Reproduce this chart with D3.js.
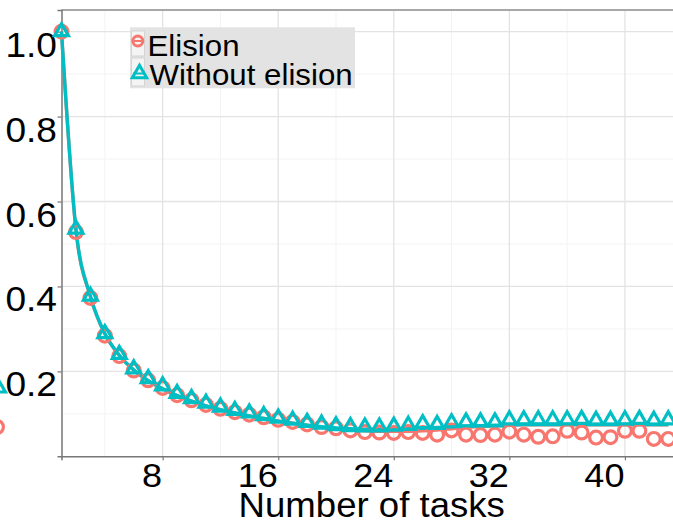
<!DOCTYPE html>
<html><head><meta charset="utf-8">
<script src="https://cdn.jsdelivr.net/npm/d3@7"></script>
<style>
body{margin:0;background:#fff}
svg{display:block}
text{font-family:"Liberation Sans",Arial,Helvetica,sans-serif;fill:#000}
</style>
</head><body>
<svg id="chart" width="673" height="520"></svg>
<script>
const tasks = [1,2,3,4,5,6,7,8,9,10,11,12,13,14,15,16,17,18,19,20,21,22,23,24,25,26,27,28,29,30,31,32,33,34,35,36,37,38,39,40,41,42,43];
const elision = [1.000,0.528,0.373,0.284,0.236,0.202,0.179,0.161,0.144,0.132,0.121,0.112,0.104,0.098,0.092,0.086,0.081,0.075,0.069,0.066,0.061,0.057,0.056,0.055,0.057,0.055,0.051,0.061,0.051,0.050,0.051,0.058,0.051,0.046,0.047,0.060,0.056,0.044,0.045,0.060,0.060,0.041,0.041];
const withoutElision = [1.000,0.535,0.377,0.289,0.240,0.206,0.183,0.166,0.148,0.136,0.125,0.116,0.108,0.102,0.096,0.090,0.085,0.080,0.076,0.072,0.070,0.069,0.069,0.071,0.073,0.077,0.075,0.079,0.081,0.081,0.081,0.086,0.086,0.086,0.086,0.086,0.087,0.085,0.085,0.086,0.087,0.085,0.086];
const elisionTrend = [1.000,0.533,0.376,0.288,0.238,0.203,0.178,0.159,0.143,0.130,0.119,0.110,0.102,0.095,0.089,0.083,0.078,0.073,0.068,0.065,0.062,0.060,0.059,0.059,0.059,0.060,0.062,0.065,0.068,0.070,0.072,0.073,0.074,0.074,0.074,0.074,0.074,0.074,0.074,0.074,0.074,0.074,0.074];
const withoutTrend = [1.000,0.535,0.377,0.289,0.238,0.203,0.178,0.159,0.143,0.130,0.119,0.110,0.102,0.095,0.089,0.083,0.078,0.073,0.070,0.067,0.065,0.064,0.064,0.064,0.065,0.066,0.068,0.070,0.071,0.072,0.073,0.074,0.075,0.075,0.075,0.075,0.075,0.075,0.075,0.075,0.075,0.075,0.075];
const seriesNames = ["Elision","Without elision"];
const seriesColors = ["#F8766D","#00BFC4"];
const yTicks = [0.2,0.4,0.6,0.8,1.0];
const yMinor = [0.1,0.3,0.5,0.7,0.9];
const xTicks = [8,16,24,32,40];
const xMinor = [4,12,20,28,36];
const xTitle = "Number of tasks";

const svg = d3.select("#chart");
const L = 61.5, R = 682, T = 10, B = 456.3;
const x = d3.scaleLinear().domain([1, 43.95]).range([L, R]);
const y = d3.scaleLinear().domain([0, 1.051]).range([B, T]);
const SX = 1.06;
const FONT = '"Liberation Sans",Arial,sans-serif';

// grid
const grid = svg.append("g");
grid.selectAll(".ymin").data(yMinor).join("line")
  .attr("x1", L).attr("x2", R).attr("y1", d => y(d)).attr("y2", d => y(d))
  .attr("stroke", "#f3f3f3").attr("stroke-width", 1);
grid.selectAll(".xmin").data(xMinor).join("line")
  .attr("y1", T).attr("y2", B).attr("x1", d => x(d)).attr("x2", d => x(d))
  .attr("stroke", "#f3f3f3").attr("stroke-width", 1);
grid.selectAll(".ymaj").data(yTicks).join("line")
  .attr("x1", L).attr("x2", R).attr("y1", d => y(d)).attr("y2", d => y(d))
  .attr("stroke", "#e3e3e3").attr("stroke-width", 1.3);
grid.selectAll(".xmaj").data(xTicks).join("line")
  .attr("y1", T).attr("y2", B).attr("x1", d => x(d)).attr("x2", d => x(d))
  .attr("stroke", "#e3e3e3").attr("stroke-width", 1.3);

// panel top border
svg.append("line").attr("x1", L).attr("x2", 673).attr("y1", T).attr("y2", T)
  .attr("stroke", "#a8a8a8").attr("stroke-width", 2);

// axes
const yAxis = d3.axisLeft(y).tickValues(yTicks).tickFormat(d3.format(".1f")).tickSize(4).tickPadding(0);
const gy = svg.append("g").attr("transform", `translate(${L},0)`).call(yAxis);
gy.select(".domain").attr("stroke", "#777").attr("stroke-width", 1.5);
gy.selectAll(".tick line").attr("stroke", "#777").attr("stroke-width", 1.2);
gy.selectAll(".tick text").attr("font-size", 35).attr("fill", "#000")
  .attr("text-anchor", "end").attr("x", 0).attr("dy", 0).attr("y", 0)
  .attr("font-family", FONT)
  .attr("transform", `translate(-4.5,24.5) scale(${SX},1)`);

const xAxis = d3.axisBottom(x).tickValues(xTicks).tickFormat(d3.format("d")).tickSize(4).tickPadding(0);
const gx = svg.append("g").attr("transform", `translate(0,${B})`).call(xAxis);
gx.select(".domain").attr("stroke", "#777").attr("stroke-width", 1.5);
gx.selectAll(".tick line").attr("stroke", "#777").attr("stroke-width", 1.2);
gx.selectAll(".tick text").attr("font-size", 34).attr("fill", "#000")
  .attr("text-anchor", "end").attr("x", 0).attr("dy", 0).attr("y", 0)
  .attr("font-family", FONT)
  .attr("transform", `translate(-1,30.4) scale(${SX},1)`);

svg.append("text").attr("text-anchor", "middle").attr("font-size", 34.5)
  .attr("transform", `translate(371.7,516.7) scale(${SX},1)`).text(xTitle);

// lines
const trends = [elisionTrend, withoutTrend];
const lineGen = d3.line().x((d, i) => x(tasks[i])).y(d => y(d)).curve(d3.curveMonotoneX);
trends.forEach((t, k) => {
  svg.append("path").datum(t).attr("d", lineGen).attr("fill", "none")
    .attr("stroke", seriesColors[k]).attr("stroke-width", 3.4).attr("stroke-linejoin", "round");
});

// points
const triSize = r => 3 * Math.sqrt(3) * r * r / 4;
svg.append("g").selectAll("circle").data(elision).join("circle")
  .attr("cx", (d, i) => x(tasks[i])).attr("cy", d => y(d)).attr("r", 6.4)
  .attr("fill", "none").attr("stroke", seriesColors[0]).attr("stroke-width", 3.2);
const tri = d3.symbol().type(d3.symbolTriangle).size(triSize(8));
svg.append("g").selectAll("path").data(withoutElision).join("path")
  .attr("d", tri).attr("transform", (d, i) => `translate(${x(tasks[i])},${y(d)})`)
  .attr("fill", "none").attr("stroke", seriesColors[1]).attr("stroke-width", 3.2)
  .attr("stroke-linejoin", "miter");

// clipped key markers at left edge
svg.append("path").attr("d", d3.symbol().type(d3.symbolTriangle).size(triSize(8))())
  .attr("transform", "translate(-1.5,388)").attr("fill", "none")
  .attr("stroke", seriesColors[1]).attr("stroke-width", 3.2);
svg.append("circle").attr("cx", -3).attr("cy", 427).attr("r", 6.4)
  .attr("fill", "none").attr("stroke", seriesColors[0]).attr("stroke-width", 3.2);

// legend
const lg = svg.append("g");
lg.append("rect").attr("x", 130).attr("y", 27.3).attr("width", 225).attr("height", 61)
  .attr("fill", "#e3e3e3");
const keyY = [31, 58], keyH = [25, 28], markY = [41, 73.5], textY = [56, 84.5], textX = [147.5, 149.5];
seriesNames.forEach((name, k) => {
  lg.append("rect").attr("x", 131.5).attr("y", keyY[k]).attr("width", 13).attr("height", keyH[k])
    .attr("fill", "#f4f4f4").attr("stroke", "#d4d4d4").attr("stroke-width", 1);
  if (k === 0) {
    lg.append("circle").attr("cx", 137.8).attr("cy", markY[k]).attr("r", 5)
      .attr("fill", "none").attr("stroke", seriesColors[k]).attr("stroke-width", 3);
  } else {
    lg.append("path").attr("d", d3.symbol().type(d3.symbolTriangle).size(triSize(8.3))())
      .attr("transform", `translate(139.5,${markY[k]})`).attr("fill", "none")
      .attr("stroke", seriesColors[k]).attr("stroke-width", 3);
  }
  lg.append("line").attr("x1", 133).attr("x2", 143.5).attr("y1", markY[k]).attr("y2", markY[k])
    .attr("stroke", seriesColors[k]).attr("stroke-width", 2);
  lg.append("text").attr("font-size", 29.5)
    .attr("transform", `translate(${textX[k]},${textY[k]}) scale(${SX},1)`).text(name);
});
</script>
</body></html>
